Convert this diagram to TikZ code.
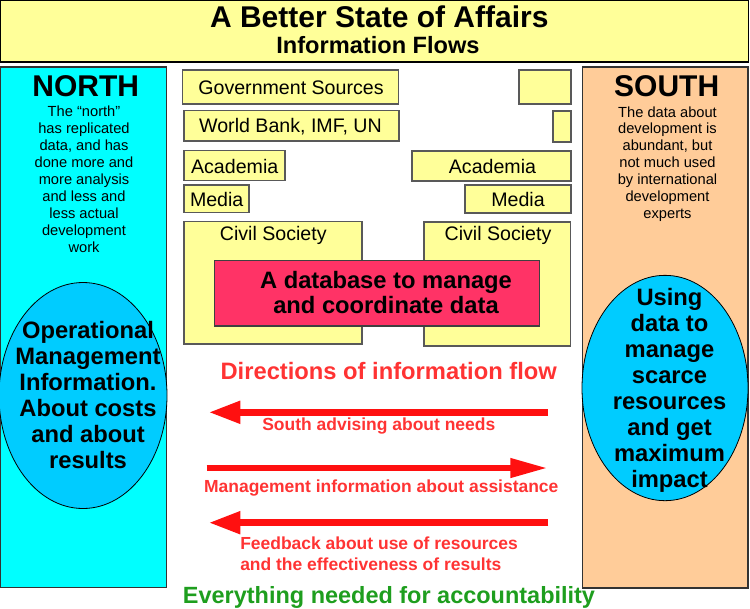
\documentclass[tikz,border=0pt]{standalone}
\usepackage{fontspec}
\setmainfont{Liberation Sans}
\usetikzlibrary{arrows.meta,fit,shapes.geometric}
\definecolor{ybg}{HTML}{FFFF99}
\definecolor{cyanbg}{HTML}{00FFFF}
\definecolor{peach}{HTML}{FFCC99}
\definecolor{ellblue}{HTML}{00CCFF}
\definecolor{dbred}{HTML}{FF3366}
\definecolor{flowred}{HTML}{FF3333}
\definecolor{arrowred}{HTML}{FF1010}
\definecolor{accgreen}{HTML}{1E9E1E}
\begin{document}
\begin{tikzpicture}[x=0.75pt,y=-0.75pt,
  ybox/.style={draw=black!65, fill=ybg, line width=1pt, inner sep=0pt},
  panel/.style={draw=black!80, line width=0.8pt, inner sep=0pt},
  lbl/.style={font=\fontsize{14.7}{17}\selectfont, inner sep=0pt, anchor=base},
  big/.style={font=\bfseries\fontsize{17.8}{19.5}\selectfont, align=center, inner sep=0pt},
  flowlbl/.style={text=flowred, font=\bfseries\fontsize{13.1}{15.6}\selectfont, inner sep=0pt, anchor=base},
  body/.style={font=\fontsize{11}{12.7}\selectfont, align=center, inner sep=0pt},
  head/.style={font=\bfseries\fontsize{22.5}{24}\selectfont, inner sep=0pt, anchor=base},
  flowarrow/.style={draw=arrowred, line width=5.6pt},
]
\useasboundingbox (0,0) rectangle (750,608);

% title
\node[fit={(0.75,0.75)(748.5,62)}, draw=black, line width=1.1pt, fill=ybg, inner sep=0pt] (title) {};
\node[head] (t1) at (379.3,27.3) {A Better State of Affairs};
\node[font=\bfseries\fontsize{17.7}{20}\selectfont, inner sep=0pt, anchor=base] (t2) at (378,53.3) {Information Flows};

% side panels
\node[panel, fill=cyanbg, fit={(0.6,67)(166.7,587.3)}] (north) {};
\node[panel, fill=peach, fit={(582.3,67)(748,588)}] (south) {};
\node[head] (northt) at (85.8,96.7) {NORTH};
\node[head] (southt) at (666.7,96.5) {SOUTH};
\node[body] (northb) at (84,179.3) {The “north”\\has replicated\\data, and has\\done more and\\more analysis\\and less and\\less actual\\development\\work};
\node[body] (southb) at (667.5,164) {The data about\\development is\\abundant, but\\not much used\\by international\\development\\experts};

% ellipses
\node[ellipse, draw=black, fill=ellblue, line width=0.6pt, minimum width=126pt, minimum height=169.5pt, inner sep=0pt] (nell) at (83,395.5) {};
\node[ellipse, draw=black, fill=ellblue, line width=0.6pt, minimum width=124.5pt, minimum height=169pt, inner sep=0pt] (sell) at (665,388) {};
\node[big] (nellt) at (88,395) {Operational\\Management\\Information.\\About costs\\and about\\results};
\node[big] (sellt) at (669.5,390) {Using\\data to\\manage\\scarce\\resources\\and get\\maximum\\impact};

% yellow boxes
\node[ybox, fit={(182.7,70)(398.7,104)}] (gov) {};
\node[lbl] (govt) at (291,94) {Government Sources};
\node[ybox, fit={(519,70)(571,104)}] (small1) {};
\node[ybox, fit={(184,110.7)(399,141)}] (wb) {};
\node[lbl] (wbt) at (290.5,132.7) {World Bank, IMF, UN};
\node[ybox, fit={(553,111)(571,142)}] (small2) {};
\node[ybox, fit={(184,150.7)(285,180.7)}] (acadl) {};
\node[lbl] (acadlt) at (234.7,173) {Academia};
\node[ybox, fit={(412,151)(571,181)}] (acadr) {};
\node[lbl] (acadrt) at (492.5,173) {Academia};
\node[ybox, fit={(184,185)(249,212.7)}] (medial) {};
\node[lbl] (medialt) at (216.7,206.5) {Media};
\node[ybox, fit={(465,185)(571,213)}] (mediar) {};
\node[lbl] (mediart) at (518,206.5) {Media};
\node[ybox, fit={(184,221.7)(362,344)}] (civl) {};
\node[lbl] (civlt) at (273.3,240.3) {Civil Society};
\node[ybox, fit={(424,222)(570.7,346)}] (civr) {};
\node[lbl] (civrt) at (498,240.3) {Civil Society};

% database
\node[draw=black!75, fill=dbred, line width=1pt, inner sep=0pt, fit={(214.3,260.7)(539.3,326)}] (db) {};
\node[font=\bfseries\fontsize{17.8}{19.3}\selectfont, align=center, inner sep=0pt] (dbt) at (386,292.5) {A database to manage\\and coordinate data};

% directions
\node[font=\bfseries\fontsize{17.8}{20}\selectfont, text=flowred, inner sep=0pt, anchor=base] (dir) at (388.7,379.2) {Directions of information flow};

\coordinate (a1s) at (548,412.3);
\coordinate (a1e) at (208.3,412.3);
\draw[flowarrow, -{Triangle[length=24pt,width=15.75pt]}] (a1s) -- (a1e);
\node[flowlbl] (l1) at (378.8,430.5) {South advising about needs};

\coordinate (a2s) at (206.7,468);
\coordinate (a2e) at (547,468);
\draw[flowarrow, line width=4pt, -{Triangle[length=27.5pt,width=14pt]}] (a2s) -- (a2e);
\node[flowlbl] (l2) at (381.3,492) {Management information about assistance};

\coordinate (a3s) at (548.3,522.7);
\coordinate (a3e) at (208.3,522.7);
\draw[flowarrow, -{Triangle[length=24pt,width=15.75pt]}] (a3s) -- (a3e);
\node[flowlbl, anchor=base west] (l3a) at (240,549.3) {Feedback about use of resources};
\node[flowlbl, anchor=base west] (l3b) at (240,570) {and the effectiveness of results};

\node[font=\bfseries\fontsize{17.6}{20}\selectfont, text=accgreen, inner sep=0pt, anchor=base] (acc) at (389,603.3) {Everything needed for accountability};
\end{tikzpicture}
\end{document}
